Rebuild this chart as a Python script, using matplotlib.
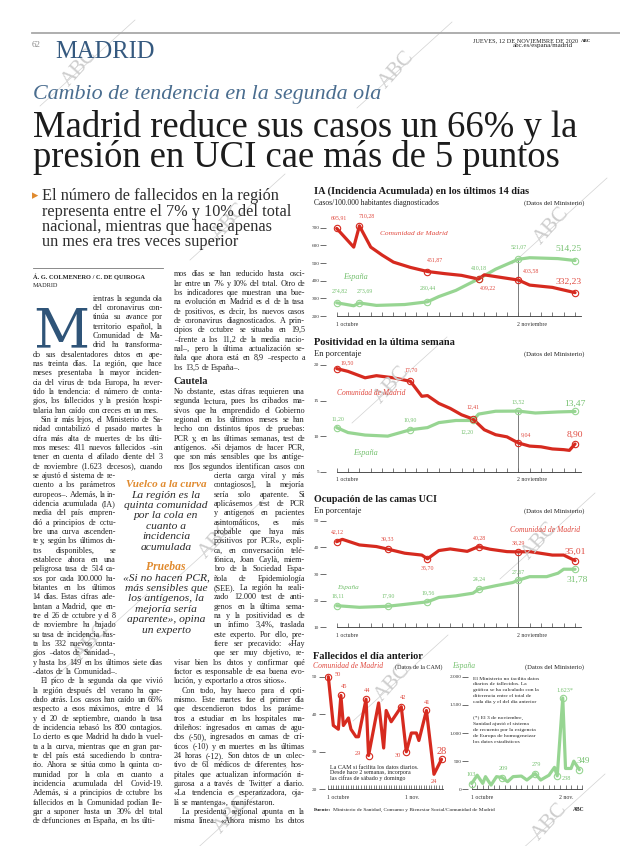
import matplotlib
matplotlib.use('Agg')
import matplotlib.pyplot as plt
from matplotlib.lines import Line2D
from matplotlib.ticker import FuncFormatter

# ---------------- data (día 0 = 1 de octubre) ----------------
ia_mad_days = [0, 3, 4, 6, 8, 10, 13, 16, 19, 22, 25, 26, 32, 34, 38, 42]
ia_mad = [695.91, 590, 710.28, 590, 545, 505, 475, 451.87, 440, 430, 409.22, 433, 403.58, 375, 362, 332.23]
ia_esp_days = [0, 3, 4, 7, 12, 16, 18, 21, 25, 28, 32, 34, 39, 42]
ia_esp = [274.82, 258, 273.69, 260, 265, 280.44, 310, 345, 410.18, 465, 521.07, 530, 525, 514.25]
ia_mad_marks = [0, 2, 7, 10, 12, 15]
ia_esp_marks = [0, 2, 5, 8, 10, 13]

pos_mad_days = [0, 2, 5, 7, 10, 13, 15, 16, 18, 20, 22, 24, 26, 28, 30, 32, 34, 36, 38, 40, 41, 42]
pos_mad = [19.50, 19.1, 18.2, 18.5, 18.2, 17.70, 15.6, 15.7, 14.6, 13.9, 13.0, 12.41, 10.9, 10.2, 9.9,
           9.04, 8.6, 8.5, 8.2, 8.1, 8.0, 8.90]
pos_esp_days = [0, 2, 5, 9, 13, 16, 18, 21, 24, 25, 28, 32, 35, 39, 42]
pos_esp = [11.20, 10.5, 10.15, 10.0, 10.90, 11.2, 11.9, 12.2, 12.20, 13.1, 13.5, 13.52, 13.25, 13.4, 13.47]
pos_mad_marks = [0, 5, 11, 15, 21]
pos_esp_marks = [0, 4, 8, 11, 14]

uci_mad_days = [0, 1, 4, 7, 9, 12, 15, 16, 18, 20, 23, 25, 27, 30, 32, 34, 38, 40, 42]
uci_mad = [42.12, 43.0, 40.9, 40.3, 39.33, 37.8, 37.1, 35.70, 38.8, 39.4, 38.5, 40.28, 39.3, 38.4, 38.29,
           38.4, 37.1, 37.1, 35.01]
uci_esp_days = [0, 4, 9, 12, 16, 18, 21, 24, 25, 28, 31, 32, 34, 37, 39, 40, 42]
uci_esp = [18.11, 17.5, 17.90, 18.6, 19.56, 21.2, 21.8, 22.8, 24.24, 25.6, 26.8, 27.67, 29.0, 29.0, 30.3, 31.8, 31.78]
uci_mad_marks = [0, 4, 7, 11, 14, 18]
uci_esp_marks = [0, 2, 4, 8, 11, 16]

fal_mad_days = [0, 2, 4, 5, 6, 8, 9, 11, 12, 15, 16, 18, 20, 22, 23, 25, 29, 31, 33, 35, 36, 39, 42, 45]
fal_mad = [50, 37, 36, 45, 37, 39, 36, 34, 34, 44, 29, 36, 43, 31, 41, 38, 42, 30, 35, 35, 33, 41, 24, 28]
fal_mad_marks = [0, 3, 9, 10, 16, 17, 21, 23]
fal_esp_days = [0, 2, 4, 5, 7, 9, 11, 13, 15, 18, 20, 23, 25, 28, 30, 31, 33, 34, 36, 37, 39]
fal_esp = [103, 250, 105, 225, 75, 225, 209, 135, 225, 235, 165, 279, 165, 250, 390, 238, 1623, 370, 370, 500, 349]
fal_esp_marks = [0, 6, 11, 15, 16, 20]

# label offsets (page pixels, dy > 0 = down)
ia_mad_off = [(2, -11), (7, -10), (8, -12), (9, 9), (13, -9), (-6, -11)]
ia_esp_off = [(3, -12), (5, -12), (0, -14), (0, -11), (0, -12), (-7, -12)]
pos_mad_off = [(11, -6), (1, -12), (0, -12), (8, -8), (0, -9)]
pos_esp_off = [(1, -9), (0, -10), (-6, 11), (0, -9), (0, -8)]
uci_mad_off = [(1, -10), (0, -10), (0, 9), (1, -9), (0, -9), (0, -9)]
uci_esp_off = [(1, -10), (0, -10), (1, -9), (1, -10), (0, -8), (2, 11)]
fal_mad_off = [(9, -2), (3, -9), (1, -9), (-11, -2), (2, -9), (-8, 4), (1, -8), (0, -8)]
fal_esp_off = [(-1, -9), (1, -9), (1, -9), (9, 3), (2, -7), (4, -9)]

headline = ["Madrid reduce sus casos un 66% y la", "presión en UCI cae más de 5 puntos"]
deck = ["El número de fallecidos en la región", "representa entre el 7% y 10% del total",
        "nacional, mientras que hace apenas", "un mes era tres veces superior"]

col1_paras = [
    ["ientras la segunda ola", "del coronavirus con-", "tinúa su avance por", "territorio español, la",
     "Comunidad de Ma-", "drid ha transforma-", "do sus desalentadores datos en ape-",
     "nas treinta días. La región, que hace", "meses presentaba la mayor inciden-",
     "cia del virus de toda Europa, ha rever-", "tido la tendencia: el número de conta-",
     "gios, los fallecidos y la presión hospi-", "talaria han caído con creces en un mes."],
    ["Sin ir más lejos, el Ministerio de Sa-", "nidad contabilizó el pasado martes la",
     "cifra más alta de muertes de los últi-", "mos meses: 411 nuevos fallecidos –sin",
     "tener en cuenta el afilado diente del 3", "de noviembre (1.623 decesos), cuando",
     "se ajustó el sistema de re-", "cuento a los parámetros", "europeos–. Además, la in-",
     "cidencia acumulada (IA)", "media del país empren-", "dió a principios de octu-",
     "bre una curva ascenden-", "te y, según los últimos da-", "tos disponibles, se",
     "establece ahora en una", "peligrosa tasa de 514 ca-", "sos por cada 100.000 ha-",
     "bitantes en los últimos", "14 días. Estas cifras ade-", "lantan a Madrid, que en-",
     "tre el 26 de octubre y el 8", "de noviembre ha bajado", "su tasa de incidencia has-",
     "ta los 332 nuevos conta-", "gios –datos de Sanidad–,", "y hasta los 149 en los últimos siete días",
     "–datos de la Comunidad–."],
    ["El pico de la segunda ola que vivió", "la región después del verano ha que-",
     "dado atrás. Los casos han caído un 66%", "respecto a esos máximos, entre el 14",
     "y el 20 de septiembre, cuando la tasa", "de incidencia rebasó los 800 contagios.",
     "Lo cierto es que Madrid ha dado la vuel-", "ta a la curva, mientras que en gran par-",
     "te del país está sucediendo lo contra-", "rio. Ahora se sitúa como la quinta co-",
     "munidad por la cola en cuanto a", "incidencia acumulada del Covid-19.",
     "Además, si a principios de octubre los", "fallecidos en la Comunidad podían lle-",
     "gar a suponer hasta un 30% del total", "de defunciones en España, en los últi-"],
]
col2_top = ["mos días se han reducido hasta osci-", "lar entre un 7% y 10% del total. Otro de",
            "los indicadores que muestran una bue-", "na evolución en Madrid es el de la tasa",
            "de positivos, es decir, los nuevos casos", "de coronavirus diagnosticados. A prin-",
            "cipios de octubre se situaba en 19,5", "–frente a los 11,2 de la media nacio-",
            "nal–, pero la última actualización se-", "ñala que ahora está en 8,9 –respecto a",
            "los 13,5 de España–."]
col2_paras = [
    ["No obstante, estas cifras requieren una", "segunda lectura, pues los cribados ma-",
     "sivos que ha emprendido el Gobierno", "regional en los últimos meses se han",
     "hecho con distintos tipos de pruebas:", "PCR y, en las últimas semanas, test de",
     "antígenos. «Si dejamos de hacer PCR,", "que son más sensibles que los antíge-",
     "nos [los segundos identifican casos con", "cierta carga viral y más", "contagiosos], la mejoría",
     "sería solo aparente. Si", "aplicásemos test de PCR", "y antígenos en pacientes",
     "asintomáticos, es más", "probable que haya más", "positivos por PCR», expli-",
     "ca, en conversación telé-", "fónica, Joan Caylà, miem-", "bro de la Sociedad Espa-",
     "ñola de Epidemiología", "(SEE). La región ha reali-", "zado 12.000 test de anti-",
     "genos en la última sema-", "na y la positividad es de", "un ínfimo 3,4%, traslada",
     "este experto. Por ello, pre-", "fiere ser precavido: «Hay", "que ser muy objetivo, re-",
     "visar bien los datos y confirmar qué", "factor es responsable de esa buena evo-",
     "lución, y exportarlo a otros sitios»."],
    ["Con todo, hay hueco para el opti-", "mismo. Este martes fue el primer día",
     "que descendieron todos los paráme-", "tros a estudiar en los hospitales ma-",
     "drileños: ingresados en camas de agu-", "dos (-50), ingresados en camas de crí-",
     "ticos (-10) y en muertes en las últimas", "24 horas (-12). Son datos de un colec-",
     "tivo de 61 médicos de diferentes hos-", "pitales que actualizan información ri-",
     "gurosa a a través de Twitter a diario.", "«La tendencia es esperanzadora, oja-",
     "lá se mantenga», manifestaron."],
    ["La presidenta regional apunta en la", "misma línea. «Ahora mismo los datos"],
]
box1 = ["La región es la", "quinta comunidad", "por la cola en", "cuanto a", "incidencia", "acumulada"]
box2 = ["«Si no hacen PCR,", "más sensibles que", "los antígenos, la", "mejoría sería",
        "aparente», opina", "un experto"]
note_cam = ["La CAM sí facilita los datos diarios.", "Desde hace 2 semanas, incorpora",
            "las cifras de sábado y domingo"]
note_min = ["El Ministerio no facilita datos", "diarios de fallecidos. La",
            "gráfica se ha calculado con la", "diferencia entre el total de",
            "cada día y el del día anterior"]
note_ast = ["(*) El 3 de noviembre,", "Sanidad ajustó el sistema", "de recuento por la exigencia",
            "de Europa de homogeneizar", "los datos estadísticos"]

# ---------------- page ----------------
SERIF = ['Liberation Serif', 'DejaVu Sans']
plt.rcParams['font.family'] = SERIF
DARK = '#222222'
RED, RED_T = '#d62a1f', '#e04a40'
GREEN, GREEN_T = '#97d592', '#76c170'
BLUE = '#35597f'
ORANGE = '#e08a2e'

W, H = 620, 846
fig = plt.figure(figsize=(W / 100, H / 100), dpi=100)
fig.patch.set_facecolor('white')
R = fig.canvas.get_renderer()


def fx(x):
    return x / W


def fy(y):
    return 1 - y / H


def put(x, y, s, size, fit=None, **kw):
    kw.setdefault('color', DARK)
    kw.setdefault('va', 'baseline')
    kw.setdefault('family', SERIF)
    t = fig.text(fx(x), fy(y), s, fontsize=size, **kw)
    if fit:
        t.set_fontsize(size * fit / t.get_window_extent(R).width)
    return t


def wid(t):
    return t.get_window_extent(R).width


def set_line(x0, x1, y, s, size, full=True):
    words = s.split()
    objs = [put(x0, y, w, size) for w in words]
    ws = [wid(o) for o in objs]
    n = len(words)
    space = size / 72 * 100 * 0.25
    if n > 1:
        gap = (x1 - x0 - sum(ws)) / (n - 1) if full else space
        if gap < 0.5 * space or (not full and sum(ws) + space * (n - 1) > x1 - x0):
            gap = 0.5 * space
            k = min(1, (x1 - x0 - gap * (n - 1)) / sum(ws))
            for o in objs:
                o.set_fontsize(size * k)
            ws = [w * k for w in ws]
    else:
        gap = 0
    x = x0
    for o, w in zip(objs, ws):
        o.set_x(fx(x))
        x += w + gap


# watermarks
for cx, cy in [(80, 68), (397, 70), (552, 226), (230, 222), (392, 385), (540, 541), (217, 540),
               (92, 642), (393, 683), (232, 815), (550, 822)]:
    fig.text(fx(cx), fy(cy), 'ABC', rotation=48, ha='center', va='center', fontsize=15,
             color='#cdcdcd', family=SERIF, zorder=0)
    fig.add_artist(Line2D([fx(cx - 40), fx(cx + 55)], [fy(cy + 38), fy(cy - 48)],
                          color='#d2d2d2', lw=0.5, zorder=0))

# header
fig.add_artist(Line2D([fx(31.7), fx(620)], [fy(33.3), fy(33.3)], color='#a8a8a8', lw=1.3))
put(32, 47, '62', 6.5, color='#8a8a8a')
put(55, 57.7, 'MADRID', 20, fit=100, color=BLUE)
put(473, 42, 'JUEVES, 12 DE NOVIEMBRE DE 2020', 3.5, fit=104)
put(581, 42, 'ABC', 3.5, fontweight='bold')
put(573, 47.5, 'abc.es/espana/madrid', 3.5, fit=60, ha='right')
put(33.3, 99, 'Cambio de tendencia en la segunda ola', 18, fit=348, style='italic', color='#4a6d8f')
hl = put(33.3, 136.7, headline[0], 30, fit=545, color='#1c1c1c')
put(33.3, 166.7, headline[1], hl.get_fontsize(), color='#1c1c1c')

# deck
put(31.5, 199, '▸', 9, color=ORANGE, family=['DejaVu Sans'])
dk = put(41.7, 215.5, deck[1], 14, fit=247.6, color='#2e2e2e')
for i, s in enumerate(deck):
    if i != 1:
        put(41.7, 200 + 15.3 * i, s, dk.get_fontsize(), color='#2e2e2e')

# byline
fig.add_artist(Line2D([fx(33), fx(163)], [fy(268.3), fy(268.3)], color='#777777', lw=0.6))
put(33, 279, 'Á. G. COLMENERO / C. DE QUIROGA', 5, fit=114, fontweight='bold')
put(33, 286.5, 'MADRID', 4, fit=25)

# drop cap
put(33, 347, 'M', 45, fit=56, color='#2f5478', family=['DejaVu Serif'])

# body
BODY = 5.9
LINE = 9.33
j = 1
for p, para in enumerate(col1_paras):
    for i, s in enumerate(para):
        x0, x1 = 32.5, 163
        if j <= 6:
            x0 = 93
        elif 20 <= j <= 39:
            x1 = 116
        if i == 0 and p > 0:
            x0 += 8
        set_line(x0, x1, 298.7 + (j - 1) * LINE + 2, s, BODY, full=i < len(para) - 1)
        j += 1

for i, s in enumerate(col2_top):
    set_line(174, 305, 274.3 + i * LINE + 2, s, BODY, full=i < len(col2_top) - 1)
put(174, 384, 'Cautela', 8, fit=34, fontweight='bold', color='#222222')
k = 12
for p, para in enumerate(col2_paras):
    for i, s in enumerate(para):
        x0 = 214 if 21 <= k <= 40 else 174
        if i == 0 and p > 0:
            x0 += 8
        full = i < len(para) - 1 or p == len(col2_paras) - 1
        set_line(x0, 305, 298.7 + (k - 2) * LINE + 2, s, BODY, full=full)
        k += 1

# pull quote
put(166, 487, 'Vuelco a la curva', 8, fit=81, ha='center', style='italic', fontweight='bold', color=ORANGE)
bq = put(166, 508, box1[1], 8, fit=84, ha='center', style='italic', color='#2a2a2a')
for i, s in enumerate(box1):
    if i != 1:
        put(166, 497.5 + 10.4 * i, s, bq.get_fontsize(), ha='center', style='italic', color='#2a2a2a')
put(166, 570, 'Pruebas', 8, fit=40, ha='center', style='italic', fontweight='bold', color=ORANGE)
for i, s in enumerate(box2):
    put(166, 580.5 + 10.4 * i, s, bq.get_fontsize(), ha='center', style='italic', color='#2a2a2a')


# ---------------- charts ----------------
def px_axes(xa, xb, ya, yb, xlim, ylim):
    (d0, p0), (d1, p1) = xa, xb
    sx = (p1 - p0) / (d1 - d0)
    left, right = p0 + (xlim[0] - d0) * sx, p0 + (xlim[1] - d0) * sx
    (v0, q0), (v1, q1) = ya, yb
    sy = (q1 - q0) / (v1 - v0)
    bottom, top = q0 + (ylim[0] - v0) * sy, q0 + (ylim[1] - v0) * sy
    ax = fig.add_axes([fx(left), fy(bottom), (right - left) / W, (bottom - top) / H])
    ax.set_xlim(xlim)
    ax.set_ylim(ylim)
    ax.patch.set_alpha(0)
    return ax


def style(ax, yticks, fmt, xticks, xlabels, bounds):
    for s in ['left', 'right', 'top']:
        ax.spines[s].set_visible(False)
    ax.spines['bottom'].set_color('#333333')
    ax.spines['bottom'].set_linewidth(0.6)
    ax.spines['bottom'].set_bounds(*bounds)
    ax.set_yticks(yticks)
    ax.yaxis.set_major_formatter(FuncFormatter(fmt))
    ax.tick_params(axis='y', length=4, width=0.5, color='#333333', labelsize=3.8, pad=1.2,
                   labelcolor='#333333')
    ax.set_xticks(xticks)
    ax.tick_params(axis='x', direction='in', length=2.8, width=0.45, color='#333333', labelbottom=False)
    for d, lab in xlabels:
        ax.annotate(lab, (d, 0), xycoords=('data', 'axes fraction'), xytext=(-1, -8),
                    textcoords='offset pixels', ha='left', va='center', fontsize=4.2, color='#333333')


def series(ax, days, vals, color, tcolor, marks, offs, fmt, big=6.8, small=4.2):
    ax.plot(days, vals, color=color, lw=2.3, solid_joinstyle='round', solid_capstyle='round', zorder=3)
    ax.plot([days[i] for i in marks], [vals[i] for i in marks], 'o', ms=4.6, mfc='none',
            mec=color, mew=0.8, zorder=4)
    for i, (dx, dy) in zip(marks, offs):
        last = i == len(vals) - 1
        ax.annotate(fmt(vals[i]) + ('*' if vals[i] > 1000 else ''), (days[i], vals[i]),
                    xytext=(dx, -dy), textcoords='offset pixels', ha='center', va='center',
                    fontsize=big if last else small, color=tcolor, zorder=5)


def dec(v):
    return f'{v:.2f}'.replace('.', ',')


def thou(v, pos=None):
    return f'{int(v):,}'.replace(',', '.')


def plain(v, pos=None):
    return f'{int(v)}'


def head(y, title, tw, sub, sw):
    put(314.3, y, title, 9, fit=tw, fontweight='bold', color='#1a1a1a')
    put(314.3, y + 11, sub, 4.5, fit=sw)
    put(584.3, y + 11, '(Datos del Ministerio)', 4.5, fit=60, ha='right')


X1 = ((0, 336.7), (32, 518.3))
xt = list(range(0, 44, 2))
xl = [(0, '1 octubre'), (32, '2 noviembre')]

# IA
head(193.5, 'IA (Incidencia Acumulada) en los últimos 14 días', 212.4,
     'Casos/100.000 habitantes diagnosticados', 126)
ax = px_axes(*X1, (200, 316.0), (700, 227.7), (-1.8, 44.5), (200, 760))
style(ax, range(200, 701, 100), plain, xt, xl, (0, 43))
ax.vlines(32, 200, ia_esp[ia_esp_days.index(32)], color='#666666', lw=0.6, zorder=2)
series(ax, ia_esp_days, ia_esp, GREEN, GREEN_T, ia_esp_marks, ia_esp_off, dec)
series(ax, ia_mad_days, ia_mad, RED, RED_T, ia_mad_marks, ia_mad_off, dec)
put(380, 235, 'Comunidad de Madrid', 6, fit=68, style='italic', color=RED_T)
put(343, 279, 'España', 5, fit=25, style='italic', color=GREEN_T)

# Positividad
head(345, 'Positividad en la última semana', 140, 'En porcentaje', 48)
ax = px_axes(*X1, (5, 471.7), (20, 365.0), (-1.8, 44.5), (5, 21.5))
style(ax, [5, 10, 15, 20], plain, xt, xl, (0, 43))
ax.vlines(32, 5, pos_esp[pos_esp_days.index(32)], color='#666666', lw=0.6, zorder=2)
series(ax, pos_esp_days, pos_esp, GREEN, GREEN_T, pos_esp_marks, pos_esp_off, dec)
series(ax, pos_mad_days, pos_mad, RED, RED_T, pos_mad_marks, pos_mad_off, dec)
put(336.7, 394.5, 'Comunidad de Madrid', 6, fit=70, style='italic', color=RED_T)
put(353, 454.5, 'España', 5, fit=25, style='italic', color=GREEN_T)

# UCI
head(502, 'Ocupación de las camas UCI', 123, 'En porcentaje', 48)
ax = px_axes(*X1, (10, 627.3), (50, 520.7), (-1.8, 44.5), (10, 52))
style(ax, [10, 20, 30, 40, 50], plain, xt, xl, (0, 43))
ax.vlines(32, 10, uci_mad[uci_mad_days.index(32)], color='#666666', lw=0.6, zorder=2)
series(ax, uci_esp_days, uci_esp, GREEN, GREEN_T, uci_esp_marks, uci_esp_off, dec)
series(ax, uci_mad_days, uci_mad, RED, RED_T, uci_mad_marks, uci_mad_off, dec)
put(510, 532, 'Comunidad de Madrid', 6, fit=71, style='italic', color=RED_T)
put(337, 589, 'España', 5, fit=22, style='italic', color=GREEN_T)

# Fallecidos
put(313, 658.5, 'Fallecidos el día anterior', 9, fit=110, fontweight='bold', color='#1a1a1a')
put(313, 668.5, 'Comunidad de Madrid', 5, fit=70, style='italic', color=RED_T)
put(395, 668.5, '(Datos de la CAM)', 4.5, fit=48)
put(452, 668.5, 'España', 5, fit=23, style='italic', color=GREEN_T)
put(584.3, 668.5, '(Datos del Ministerio)', 4.5, fit=59, ha='right')

ax = px_axes((0, 328.3), (31, 406.3), (20, 789.3), (50, 676.7), (-1.5, 46.5), (20, 52))
style(ax, [20, 30, 40, 50], plain, list(range(0, 46)), [(0, '1 octubre'), (31, '1 nov.')], (0, 45.5))
series(ax, fal_mad_days, fal_mad, RED, RED_T, fal_mad_marks, fal_mad_off, plain, big=7.5, small=4.6)
ax.annotate(plain(fal_mad[22]), (fal_mad_days[22], fal_mad[22]), xytext=(0, -7), textcoords='offset pixels',
            ha='center', va='center', fontsize=4.6, color=RED_T)

ax = px_axes((0, 471.7), (32, 560.0), (0, 789.3), (2000, 676.7), (-1.2, 41), (0, 2150))
style(ax, [0, 500, 1000, 1500, 2000], thou, list(range(0, 41, 2)), [(0, '1 octubre'), (32, '2 nov.')],
      (0, 40))
series(ax, fal_esp_days, fal_esp, GREEN, GREEN_T, fal_esp_marks, fal_esp_off, thou, big=6.5, small=4.4)

nc = put(330, 768.5, note_cam[0], 4, fit=88)
for i, s in enumerate(note_cam[1:], 1):
    put(330, 768.5 + 5.6 * i, s, nc.get_fontsize())
nm = put(473.3, 679.5, note_min[0], 4, fit=65)
for i, s in enumerate(note_min[1:], 1):
    put(473.3, 679.5 + 5.9 * i, s, nm.get_fontsize())
for i, s in enumerate(note_ast):
    put(473.3, 719.3 + 5.9 * i, s, nm.get_fontsize())

# footer
fu = put(314.3, 811, 'Fuente:', 3.9, fontweight='bold')
put(314.3 + wid(fu) + 1.5, 811, 'Ministerio de Sanidad, Consumo y Bienestar Social/Comunidad de Madrid', 3.9)
put(584.3, 811, 'ABC', 4, fontweight='bold', ha='right')

fig.savefig('out.png', dpi=100, facecolor='white')
